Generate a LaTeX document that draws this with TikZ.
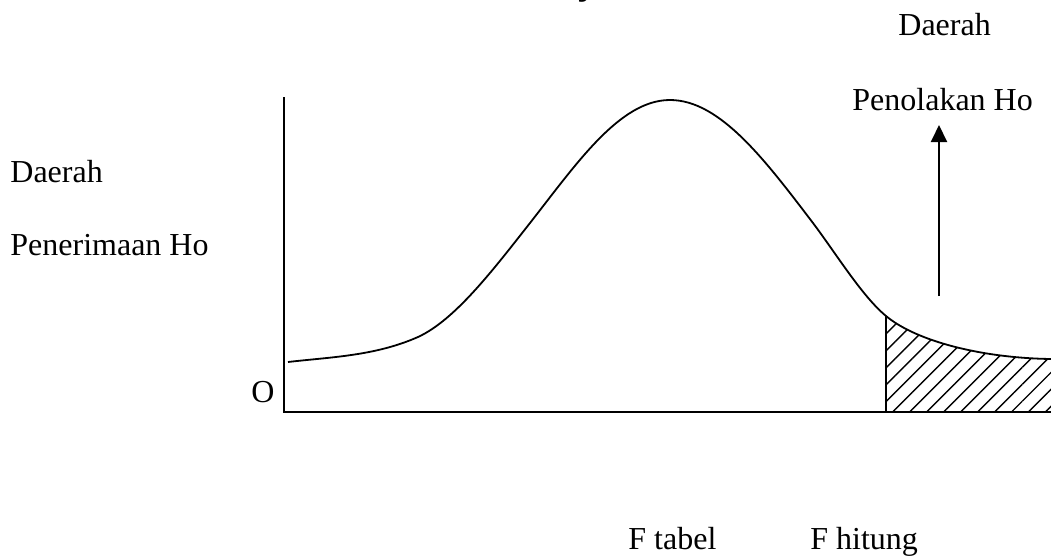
\documentclass[tikz,border=0pt]{standalone}
\usepackage{fontspec}
\setmainfont{Liberation Serif}
\usetikzlibrary{arrows.meta,patterns.meta}
\begin{document}
\begin{tikzpicture}[x=0.5pt,y=-0.5pt,
  lbl/.style={inner sep=0pt,anchor=base west,font=\fontsize{16}{19}\selectfont},
  axis/.style={line width=1pt},
  curve/.style={line width=0.9pt},
  arr/.style={line width=1pt,-{Triangle[length=8.5pt,width=8pt]}}]
\useasboundingbox (0,0) rectangle (1051,558);
\def\densitypath{(288,362) .. controls (331,357) and (375,356) .. (418,337)
  .. controls (455,320) and (493,270) .. (530,223)
  .. controls (577,163) and (620,100) .. (670,100)
  .. controls (720,100) and (765,160) .. (813,223)
  .. controls (837,255) and (862,296) .. (886,316)
  .. controls (916,341) and (981,358) .. (1051,359)}
% cut-off title fragment
\node[lbl,font=\fontsize{16}{19}\selectfont\bfseries] (ttl) at (579,-5) {j};
% hatched rejection area
\begin{scope}
\clip (886,0) rectangle (1051,412);
\fill[pattern={Lines[angle=45,distance=6pt,line width=0.7pt]}]
  \densitypath -- (1051,412) -- (289,412) -- cycle;
\end{scope}
% density curve
\draw[curve] \densitypath;
% axes
\coordinate (ytop) at (284,97);
\coordinate (orig) at (284,412);
\coordinate (xend) at (1051,412);
\draw[axis] (ytop) -- (orig) -- (xend);
% critical value line
\coordinate (ct) at (886,316);
\coordinate (cb) at (886,412);
\draw[axis] (ct) -- (cb);
% arrow
\coordinate (ab) at (939,296);
\coordinate (at) at (939,125);
\draw[arr] (ab) -- (at);
% labels
\node[lbl] (d1) at (898,35) {Daerah};
\node[lbl] (pn) at (852,110) {Penolakan Ho};
\node[lbl] (d2) at (10,182) {Daerah};
\node[lbl] (pr) at (10,255) {Penerimaan Ho};
\node[lbl] (o) at (251,402) {O};
\node[lbl] (ft) at (628,549) {F tabel};
\node[lbl] (fh) at (810,549) {F hitung};
\end{tikzpicture}
\end{document}
